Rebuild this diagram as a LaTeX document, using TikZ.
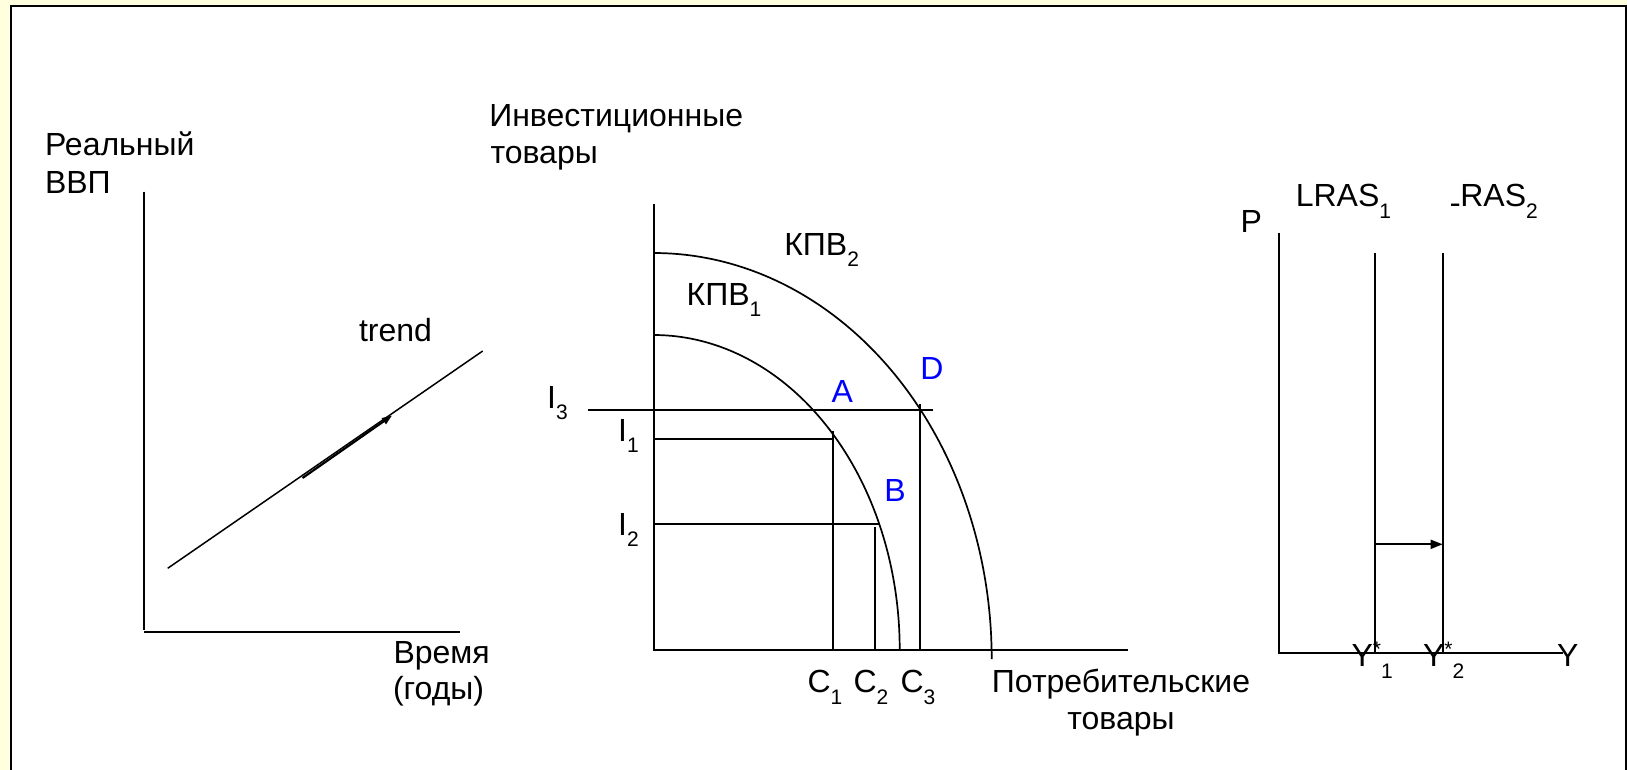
\documentclass[tikz,border=0pt]{standalone}
\usepackage{fontspec}
\setmainfont{Liberation Sans}
\usetikzlibrary{arrows.meta}
\definecolor{bgyellow}{RGB}{255,255,221}
\definecolor{lblblue}{RGB}{0,0,255}
\newcommand\mysb[1]{\raisebox{-11.5pt}{\fontsize{21}{21}\selectfont #1}}
\newcommand\mystar{\raisebox{10.5pt}{\fontsize{21}{21}\selectfont *}}
\begin{document}
\begin{tikzpicture}[x=1pt,y=-1pt,
  lbl/.style={anchor=base west, inner sep=0pt, outer sep=0pt, font=\fontsize{32}{37}\selectfont},
  clbl/.style={lbl, anchor=base},
  bluelbl/.style={lbl, text=lblblue},
  axisline/.style={line width=2pt},
  guide/.style={line width=1.8pt},
  curveline/.style={line width=1.7pt},
  trendline/.style={line width=1.5pt},
  shiftarrow/.style={line width=1.8pt, -{Triangle[length=12pt,width=9pt]}},
  trendarrow/.style={line width=2.2pt, -{Triangle[length=10pt,width=7pt]}}]
\useasboundingbox (0,0) rectangle (1627,770);
% frame
\fill[bgyellow] (0,0) rectangle (1627,770);
\fill[white] (11,6) rectangle (1626,770);
\draw[line width=2.2pt] (11,772) -- (11,6) -- (1626,6) -- (1626,772);

% ---------- panel 1 ----------
\coordinate (o1) at (144.3,631.5);
\coordinate (y1top) at (144.3,191.7);
\coordinate (x1end) at (460,631.5);
\draw[axisline] (y1top) -- (144.3,630);
\draw[axisline] (o1) -- (x1end);
\coordinate (tr0) at (167.7,568.3);
\coordinate (tr1) at (482.7,351);
\draw[trendline] (tr0) -- (tr1);
\coordinate (ta0) at (302.5,478);
\coordinate (ta1) at (392,415.5);
\draw[trendarrow] (ta0) -- (ta1);
\node[lbl] (gdpa) at (45,156) {Реальный};
\node[lbl] (gdpb) at (45,193.3) {ВВП};
\node[lbl] (trend) at (359,341.7) {trend};
\node[lbl] (timea) at (393.5,663.3) {Время};
\node[lbl] (timeb) at (393,699) {(годы)};

% ---------- panel 2 ----------
\coordinate (o2) at (653.7,649.5);
\coordinate (y2top) at (653.7,204);
\coordinate (x2end) at (1128,649.5);
\draw[axisline] (y2top) -- (o2) -- (x2end);
% PPF curves
\draw[curveline] plot[domain=0:90, samples=90] ({653.7+338*sin(\x)}, {659-406*cos(\x)});
\draw[curveline] plot[domain=0:90, samples=90] ({653.7+246*sin(\x)}, {649.5-314.5*cos(\x)});
% guide lines
\coordinate (i3a) at (587.7,410);
\coordinate (i3b) at (933,410);
\draw[guide] (i3a) -- (i3b);
\coordinate (i1a) at (653.7,439);
\coordinate (i1b) at (833,439);
\draw[guide] (i1a) -- (i1b);
\coordinate (c1a) at (833,431);
\coordinate (c1b) at (833,649.5);
\draw[guide] (c1a) -- (c1b);
\coordinate (i2a) at (653.7,524);
\coordinate (i2b) at (879,524);
\draw[guide] (i2a) -- (i2b);
\coordinate (c2a) at (875,527);
\coordinate (c2b) at (875,649.5);
\draw[guide, line width=1.5pt] (c2a) -- (c2b);
\coordinate (c3a) at (920,404);
\coordinate (c3b) at (920,649.5);
\draw[guide] (c3a) -- (c3b);
% labels
\node[lbl] (inva) at (489.3,126.7) {Инвестиционные};
\node[lbl] (invb) at (490.5,163.3) {товары};
\node[lbl] (kpv2) at (784.3,255) {КПВ\mysb{2}};
\node[lbl] (kpv1) at (686.6,305) {КПВ\mysb{1}};
\node[bluelbl] (ptA) at (831.5,402.7) {A};
\node[bluelbl] (ptD) at (920.3,379) {D};
\node[bluelbl] (ptB) at (884.3,501.7) {B};
\node[lbl] (lI3) at (547.2,408) {I\mysb{3}};
\node[lbl] (lI1) at (618.2,441) {I\mysb{1}};
\node[lbl] (lI2) at (618.2,535) {I\mysb{2}};
\node[lbl] (lC1) at (807.5,692.7) {C\mysb{1}};
\node[lbl] (lC2) at (853.5,692.7) {C\mysb{2}};
\node[lbl] (lC3) at (900.5,692.7) {C\mysb{3}};
\node[clbl] (cons1) at (1121,692.7) {Потребительские};
\node[clbl] (cons2) at (1121,729.3) {товары};

% ---------- panel 3 ----------
\coordinate (o3) at (1278.7,652.7);
\coordinate (y3top) at (1278.7,232.7);
\coordinate (x3end) at (1563,652.7);
\draw[axisline] (y3top) -- (o3) -- (x3end);
\coordinate (l1top) at (1375,253.3);
\coordinate (l1bot) at (1375,652.7);
\coordinate (l2top) at (1442.7,253.3);
\coordinate (l2bot) at (1442.7,652.7);
\draw[axisline] (l1top) -- (l1bot);
\draw[axisline] (l2top) -- (l2bot);
\coordinate (sh0) at (1375,544.3);
\coordinate (sh1) at (1442.7,544.3);
\draw[shiftarrow] (sh0) -- (sh1);
\node[lbl] (lP) at (1240.6,233) {P};
\node[lbl] (lras1) at (1295.8,206.7) {LRAS\mysb{1}};
\begin{scope}
\clip (1451.5,150) rectangle (1600,240);
\node[lbl] (lras2) at (1442.5,206.7) {LRAS\mysb{2}};
\end{scope}
\node[lbl] (ys1) at (1351.5,666.7) {Y\mystar\mysb{1}};
\node[lbl] (ys2) at (1423,666.7) {Y\mystar\mysb{2}};
\node[lbl] (ylbl) at (1557,666.7) {Y};
\end{tikzpicture}
\end{document}
